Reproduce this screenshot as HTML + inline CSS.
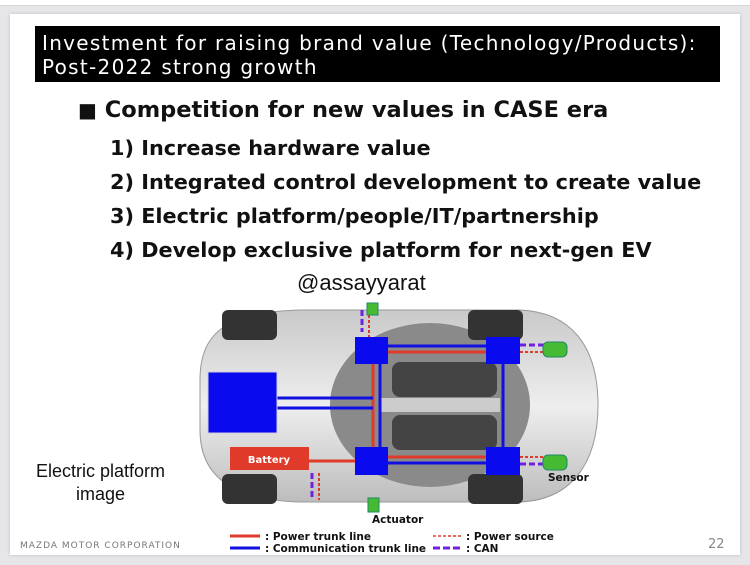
<!DOCTYPE html>
<html><head><meta charset="utf-8"><style>
html,body{margin:0;padding:0;}
body{width:750px;height:565px;background:#e6e6e9;position:relative;overflow:hidden;font-family:"DejaVu Sans","Liberation Sans",sans-serif;}
.slide{position:absolute;left:10px;top:14px;width:730px;height:541px;background:#fff;box-shadow:0 0 3px #bbb;}
.t{position:absolute;white-space:nowrap;}
</style></head><body>
<div style="position:absolute;left:0;top:0;width:750px;height:5px;background:#fff;border-bottom:1px solid #d8d8d8"></div>
<div class="slide"></div>
<div class="t" style="left:35px;top:26px;width:685px;height:56px;background:#000;"></div>
<div class="t" style="left:42px;top:31px;color:#fff;font-size:20px;line-height:24px;letter-spacing:1.3px">Investment for raising brand value (Technology/Products):<br>Post-2022 strong growth</div>
<div class="t" style="left:78px;top:97px;font-size:22.5px;font-weight:bold;color:#111"><span style="font-size:20px">■</span> Competition for new values in CASE era</div>
<div class="t" style="left:110px;top:131px;font-size:20.8px;font-weight:bold;color:#111;line-height:34px">1) Increase hardware value<br>2) Integrated control development to create value<br>3) Electric platform/people/IT/partnership<br>4) Develop exclusive platform for next-gen EV</div>
<div class="t" style="left:297px;top:270px;font-size:22px;color:#111;font-family:'Liberation Sans',sans-serif">@assayyarat</div>
<div class="t" style="left:28px;top:460px;width:145px;text-align:center;font-size:18px;line-height:23px;color:#111;font-family:'Liberation Sans',sans-serif">Electric platform<br>image</div>
<div class="t" style="left:20px;top:541px;font-size:9px;letter-spacing:1px;color:#777">MAZDA MOTOR CORPORATION</div>
<div class="t" style="left:708px;top:537px;font-size:13px;color:#888">22</div>
<svg class="t" style="left:0;top:0" width="750" height="565">
<defs><linearGradient id="g" x1="0" y1="0" x2="0" y2="1"><stop offset="0" stop-color="#c9c9c9"/><stop offset="0.5" stop-color="#eee"/><stop offset="1" stop-color="#bdbdbd"/></linearGradient></defs>
<path d="M200 380 C200 330 230 312 300 310 L520 310 C570 312 598 345 598 405 C598 465 570 500 520 502 L300 502 C230 500 200 475 200 430 Z" fill="url(#g)" stroke="#999"/>
<ellipse cx="430" cy="405" rx="100" ry="82" fill="#8a8a8a"/>
<rect x="392" y="362" width="105" height="35" rx="8" fill="#444"/>
<rect x="392" y="415" width="105" height="35" rx="8" fill="#444"/>
<rect x="380" y="398" width="120" height="14" fill="#ccc"/>
<rect x="222" y="310" width="55" height="30" rx="6" fill="#333"/>
<rect x="222" y="474" width="55" height="30" rx="6" fill="#333"/>
<rect x="468" y="310" width="55" height="30" rx="6" fill="#333"/>
<rect x="468" y="474" width="55" height="30" rx="6" fill="#333"/>
<g stroke-width="3">
<line x1="388" y1="346" x2="486" y2="346" stroke="#1010e0"/>
<line x1="388" y1="352" x2="486" y2="352" stroke="#e03a2a"/>
<line x1="388" y1="457" x2="486" y2="457" stroke="#e03a2a"/>
<line x1="388" y1="463" x2="486" y2="463" stroke="#1010e0"/>
<line x1="373" y1="364" x2="373" y2="447" stroke="#e03a2a"/>
<line x1="380" y1="364" x2="380" y2="447" stroke="#1010e0"/>
<line x1="503" y1="364" x2="503" y2="447" stroke="#1010e0"/>
<line x1="277" y1="398" x2="373" y2="398" stroke="#1010e0"/>
<line x1="277" y1="408" x2="373" y2="408" stroke="#1010e0"/>
<line x1="309" y1="461" x2="355" y2="461" stroke="#e03a2a"/>
<line x1="369" y1="315" x2="369" y2="337" stroke="#e03a2a" stroke-width="2" stroke-dasharray="3,2"/>
<line x1="362" y1="310" x2="362" y2="332" stroke="#7020e0" stroke-dasharray="6,3"/>
<line x1="312" y1="473" x2="312" y2="500" stroke="#7020e0" stroke-dasharray="6,3"/>
<line x1="319" y1="473" x2="319" y2="500" stroke="#e03a2a" stroke-width="2" stroke-dasharray="3,2"/>
<line x1="520" y1="345" x2="545" y2="345" stroke="#7020e0" stroke-dasharray="6,3"/>
<line x1="520" y1="352" x2="545" y2="352" stroke="#e03a2a" stroke-width="2" stroke-dasharray="3,2"/>
<line x1="520" y1="457" x2="545" y2="457" stroke="#e03a2a" stroke-width="2" stroke-dasharray="3,2"/>
<line x1="520" y1="464" x2="545" y2="464" stroke="#7020e0" stroke-dasharray="6,3"/>
</g>
<rect x="208" y="372" width="69" height="61" fill="#0a0aee" stroke="#ccd"/>
<rect x="355" y="337" width="33" height="27" fill="#0a0aee"/>
<rect x="486" y="337" width="34" height="27" fill="#0a0aee"/>
<rect x="355" y="447" width="33" height="28" fill="#0a0aee"/>
<rect x="486" y="447" width="34" height="28" fill="#0a0aee"/>
<rect x="230" y="447" width="79" height="23" fill="#e03a2a"/>
<text x="269" y="463" fill="#fff" font-size="10" font-weight="bold" text-anchor="middle" font-family="DejaVu Sans">Battery</text>
<rect x="543" y="342" width="24" height="15" rx="5" fill="#44bb33" stroke="#286"/>
<rect x="543" y="455" width="24" height="15" rx="5" fill="#44bb33" stroke="#286"/>
<rect x="367" y="303" width="11" height="12" fill="#44bb33" stroke="#286"/>
<rect x="368" y="498" width="11" height="14" fill="#44bb33" stroke="#286"/>
<g font-family="DejaVu Sans" font-weight="bold" font-size="10.5" fill="#111">
<text x="548" y="481">Sensor</text>
<text x="372" y="523">Actuator</text>
<text x="265" y="540">: Power trunk line</text>
<text x="265" y="552">: Communication trunk line</text>
<text x="466" y="540">: Power source</text>
<text x="466" y="552">: CAN</text>
</g>
<line x1="230" y1="536" x2="260" y2="536" stroke="#e03a2a" stroke-width="3"/>
<line x1="230" y1="548" x2="260" y2="548" stroke="#1010e0" stroke-width="3"/>
<line x1="433" y1="536" x2="461" y2="536" stroke="#e03a2a" stroke-width="1.5" stroke-dasharray="3,2"/>
<line x1="433" y1="548" x2="461" y2="548" stroke="#7020e0" stroke-width="3" stroke-dasharray="7,3"/>
</svg>
</body></html>
